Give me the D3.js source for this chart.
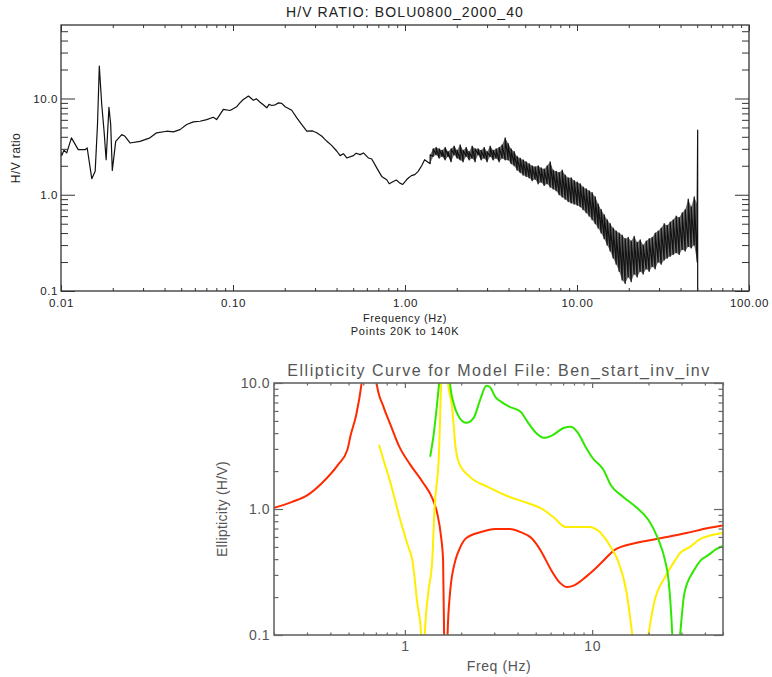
<!DOCTYPE html>
<html>
<head>
<meta charset="utf-8">
<script src="https://cdn.jsdelivr.net/npm/d3@7"></script>
<style>
  body { margin: 0; background: #fff; }
  svg { display: block; }
  text { font-family: "Liberation Sans", Arial, sans-serif; }
  .top text { fill: #222; }
  .bottom text { fill: #555; }
</style>
</head>
<body>
<div id="chart"></div>
<script>
// ---- top panel: H/V ratio (frequency Hz, ratio) ----
const hvSmooth = [
  [0.0099, 2.94], [0.0101, 2.55], [0.0104, 2.9], [0.0108, 2.72], [0.0115, 3.9],
  [0.0126, 2.94], [0.0138, 2.94], [0.0142, 3.06], [0.0151, 1.47], [0.0158, 1.75],
  [0.0163, 5.36], [0.0167, 21.7], [0.01725, 8.66], [0.0178, 4.57], [0.0183, 2.31],
  [0.0190, 8.1], [0.01945, 5.36], [0.01987, 1.79], [0.0208, 3.59], [0.02255, 4.22],
  [0.02356, 4.05], [0.0252, 3.45], [0.0288, 3.59], [0.0329, 3.9], [0.036, 4.4],
  [0.0412, 4.57], [0.045, 4.5], [0.0492, 4.75], [0.0538, 5.36], [0.0588, 5.71],
  [0.0643, 5.8], [0.0703, 6.04], [0.0768, 6.38], [0.0803, 6.04], [0.0879, 7.7],
  [0.0961, 7.5], [0.105, 8.19], [0.109, 8.9], [0.1148, 9.77], [0.119, 10.2],
  [0.1229, 10.6], [0.1314, 9.6], [0.137, 9.9], [0.1437, 9.15], [0.15, 8.6],
  [0.1572, 8.0], [0.162, 8.7], [0.168, 8.45], [0.176, 8.6], [0.1838, 9.0],
  [0.192, 8.9], [0.201, 8.2], [0.2196, 7.55], [0.235, 6.3], [0.2512, 5.36],
  [0.2685, 4.57], [0.29, 4.6], [0.307, 4.4], [0.3288, 4.05], [0.34, 3.8],
  [0.3515, 3.59], [0.3757, 3.24], [0.4017, 2.83], [0.4196, 2.55], [0.4386, 2.67],
  [0.4586, 2.41], [0.5014, 2.55], [0.52, 2.7], [0.5482, 2.61], [0.5734, 2.72],
  [0.6, 2.5], [0.6131, 2.41], [0.6408, 2.35], [0.6849, 1.9], [0.7321, 1.55],
  [0.7826, 1.43], [0.81, 1.3], [0.8553, 1.37], [0.89, 1.42], [0.9343, 1.32],
  [0.97, 1.28], [1.021, 1.43], [1.05, 1.5], [1.09, 1.58], [1.14, 1.62],
  [1.1925, 1.75], [1.25, 2.0], [1.3, 2.31]
];

// noisy part: per frequency bin, low and high of the trace
const noisyFreq = [
  1.40, 1.457, 1.517, 1.579, 1.644, 1.711, 1.781, 1.854, 1.930, 2.009,
  2.092, 2.178, 2.267, 2.360, 2.457, 2.557, 2.662, 2.771, 2.885, 3.003,
  3.126, 3.254, 3.388, 3.527, 3.671, 3.822, 3.978, 4.141, 4.311, 4.488,
  4.672, 4.864, 5.063, 5.271, 5.487, 5.712, 5.946, 6.190, 6.444, 6.708,
  6.983, 7.269, 7.567, 7.878, 8.201, 8.537, 8.887, 9.251, 9.630, 10.03,
  10.44, 10.86, 11.31, 11.77, 12.25, 12.76, 13.28, 13.82, 14.39, 14.98,
  15.59, 16.23, 16.90, 17.59, 18.31, 19.06, 19.84, 20.66, 21.50, 22.38,
  23.30, 24.26, 25.25, 26.29, 27.36, 28.49, 29.65, 30.87, 32.13, 33.45,
  34.82, 36.25, 37.74, 39.28, 40.89, 42.57, 44.32, 46.13, 48.02, 49.99
];
const noisyLo = [
  2.1, 2.5, 2.6, 2.4, 2.5, 2.3, 2.5, 2.2, 2.6, 2.4,
  2.3, 2.2, 2.5, 2.3, 2.4, 2.2, 2.6, 2.3, 2.4, 2.2,
  2.5, 2.3, 2.4, 2.2, 2.4, 2.3, 2.3, 2.1, 2.0, 1.8,
  1.7, 1.6, 1.55, 1.5, 1.4, 1.45, 1.3, 1.35, 1.25, 1.3,
  1.2, 1.15, 1.1, 1.0, 0.95, 0.9, 0.85, 0.82, 0.8, 0.78,
  0.75, 0.7, 0.65, 0.6, 0.55, 0.5, 0.45, 0.4, 0.35, 0.3,
  0.26, 0.22, 0.19, 0.16, 0.13, 0.12, 0.14, 0.125, 0.15, 0.14,
  0.16, 0.15, 0.17, 0.16, 0.18, 0.17, 0.2, 0.19, 0.21, 0.22,
  0.23, 0.24, 0.25, 0.24, 0.27, 0.26, 0.29, 0.28, 0.3, 0.2
];
const noisyHi = [
  2.6, 3.0, 3.1, 3.0, 2.9, 3.1, 2.8, 3.0, 3.2, 2.9,
  3.3, 2.9, 3.1, 2.8, 3.2, 3.0, 3.0, 2.9, 3.1, 2.8,
  3.2, 2.9, 3.0, 3.1, 3.3, 3.9, 3.4, 3.0, 2.8, 2.5,
  2.4, 2.3, 2.2, 2.1, 2.0, 1.95, 2.0, 1.9, 1.85, 2.0,
  2.2, 1.8, 1.75, 1.7, 1.8, 1.6, 1.5, 1.5, 1.4, 1.35,
  1.3, 1.2, 1.15, 1.1, 1.05, 0.95, 0.8, 0.7, 0.62, 0.55,
  0.5, 0.45, 0.42, 0.4, 0.38, 0.35, 0.36, 0.33, 0.37, 0.32,
  0.34, 0.3, 0.33, 0.35, 0.36, 0.4, 0.42, 0.45, 0.5, 0.48,
  0.52, 0.55, 0.6, 0.58, 0.65, 0.7, 0.9, 0.75, 0.95, 0.8
];
const hvSpike = [[50.3, 4.7], [50.3, 0.05]];

const topXTicks = [0.01, 0.1, 1, 10, 100];
const topXLabels = ["0.01", "0.10", "1.00", "10.00", "100.00"];
const topYTicks = [0.1, 1, 10];
const topYLabels = ["0.1", "1.0", "10.0"];

// ---- bottom panel: ellipticity curves (frequency Hz, H/V) ----
const redCurve = [
  [0.2, 1.02], [0.25, 1.14], [0.302, 1.29], [0.361, 1.61], [0.439, 2.24],
  [0.4926, 2.94], [0.514, 3.88], [0.55, 5.59], [0.588, 10.05], [0.61, 16],
  [0.64, 30], [0.68, 16], [0.706, 10.0], [0.769, 6.47], [0.838, 4.66],
  [0.935, 3.11], [1.07, 2.24], [1.253, 1.61], [1.4, 1.22], [1.487, 0.93],
  [1.561, 0.6], [1.6, 0.39], [1.63, 0.05], [1.66, 0.03], [1.69, 0.1],
  [1.742, 0.215], [1.863, 0.393], [1.945, 0.472], [2.13, 0.588], [2.545, 0.656],
  [3.04, 0.693], [3.63, 0.693], [4.15, 0.656], [4.74, 0.588], [5.29, 0.472],
  [5.66, 0.393], [6.05, 0.327], [6.76, 0.258], [7.36, 0.24], [8.07, 0.249],
  [9.23, 0.288], [10.49, 0.34], [11.51, 0.39], [13.15, 0.472], [17.09, 0.537],
  [23.5, 0.588], [31.9, 0.644], [41.7, 0.706], [50, 0.74]
];
const yellowCurve = [
  [0.728, 3.23], [0.769, 2.45], [0.838, 1.61], [0.935, 0.864], [1.044, 0.499],
  [1.096, 0.393], [1.165, 0.179], [1.223, 0.1], [1.25, 0.03], [1.278, 0.1],
  [1.332, 0.215], [1.40, 0.39], [1.44, 1.0], [1.524, 2.94], [1.56, 10],
  [1.62, 30], [1.70, 10], [1.787, 6.47], [1.864, 3.11], [1.945, 2.32],
  [2.225, 1.80], [2.77, 1.50], [3.63, 1.246], [4.52, 1.116], [5.29, 1.02],
  [6.2, 0.864], [7.22, 0.719], [9.62, 0.719], [10.98, 0.656], [12.57, 0.499],
  [13.7, 0.393], [15.3, 0.215], [16.4, 0.1], [18.1, 0.03], [20.0, 0.1],
  [21.4, 0.179], [24.5, 0.288], [27.8, 0.393], [29.2, 0.44], [33.3, 0.5],
  [37.5, 0.575], [41.7, 0.61], [50, 0.644]
];
const greenCurve = [
  [1.365, 2.6], [1.428, 4.0], [1.494, 7.4], [1.524, 10], [1.6, 25],
  [1.68, 25], [1.742, 10], [1.823, 6.85], [1.945, 5.38], [2.13, 4.83],
  [2.33, 5.29], [2.545, 7.62], [2.72, 9.5], [2.84, 9.3], [3.04, 7.77],
  [3.33, 6.96], [3.63, 6.47], [4.15, 5.91], [4.52, 4.92], [4.95, 4.1],
  [5.53, 3.67], [6.18, 3.87], [7.05, 4.4], [7.7, 4.49], [8.4, 4.02],
  [9.23, 3.11], [10.06, 2.54], [11.51, 2.04], [12.57, 1.55], [14.67, 1.246],
  [17.09, 1.04], [20.0, 0.818], [22.3, 0.599], [24.5, 0.393], [25.6, 0.272],
  [26.8, 0.1], [27.6, 0.03], [29.5, 0.1], [31.1, 0.215], [34.8, 0.322],
  [38.1, 0.393], [41.7, 0.43], [46, 0.48], [50, 0.51]
];

const botXTicks = [1, 10];
const botXLabels = ["1", "10"];
const botYTicks = [0.1, 1, 10];
const botYLabels = ["0.1", "1.0", "10.0"];

const width = 772, height = 677;

const svg = d3.select("#chart").append("svg")
  .attr("width", width)
  .attr("height", height);

// IDL style box with inward ticks on all four sides
function drawAxes(g, x, y, o) {
  const [x0, x1] = x.range();
  const [y0, y1] = y.range();
  const isMajor = (list, v) => list.some(m => Math.abs(m - v) / m < 1e-6);
  const xMinor = x.ticks().filter(v => !isMajor(o.xTicks, v));
  const yMinor = y.ticks().filter(v => !isMajor(o.yTicks, v));

  const parts = [
    [d3.axisBottom(x).tickValues(o.xTicks).tickSize(-o.xLen).tickPadding(o.xPad)
      .tickFormat((d, i) => o.xLabels[i]), `translate(0,${y0})`],
    [d3.axisBottom(x).tickValues(xMinor).tickSize(-o.xLen / 2).tickFormat(""), `translate(0,${y0})`],
    [d3.axisTop(x).tickValues(o.xTicks).tickSize(-o.xLen).tickFormat(""), `translate(0,${y1})`],
    [d3.axisTop(x).tickValues(xMinor).tickSize(-o.xLen / 2).tickFormat(""), `translate(0,${y1})`],
    [d3.axisLeft(y).tickValues(o.yTicks).tickSize(-o.yLen).tickPadding(o.yPad)
      .tickFormat((d, i) => o.yLabels[i]), `translate(${x0},0)`],
    [d3.axisLeft(y).tickValues(yMinor).tickSize(-o.yLen / 2).tickFormat(""), `translate(${x0},0)`],
    [d3.axisRight(y).tickValues(o.yTicks).tickSize(-o.yLen).tickFormat(""), `translate(${x1},0)`],
    [d3.axisRight(y).tickValues(yMinor).tickSize(-o.yLen / 2).tickFormat(""), `translate(${x1},0)`]
  ];
  parts.forEach(([axis, tr]) => {
    const a = g.append("g").attr("transform", tr).call(axis.tickSizeOuter(0));
    a.select(".domain").remove();
    a.selectAll("line").attr("stroke", o.color).attr("stroke-width", o.tickWidth);
    a.attr("font-family", null).attr("font-size", o.fontSize);
    a.selectAll("text").attr("fill", null).attr("letter-spacing", o.spacing);
  });

  g.append("rect")
    .attr("x", x0).attr("y", y1)
    .attr("width", x1 - x0).attr("height", y0 - y1)
    .attr("fill", "none")
    .attr("stroke", o.color)
    .attr("stroke-width", o.boxWidth);
}

// ---------- top chart ----------
const topPanel = svg.append("g").attr("class", "top");
const xTop = d3.scaleLog().domain([0.01, 100]).range([61, 749]);
const yTop = d3.scaleLog().domain([0.1, 58]).range([291, 25]);

topPanel.append("clipPath").attr("id", "clipTop")
  .append("rect")
  .attr("x", 61).attr("y", 25)
  .attr("width", 749 - 61).attr("height", 291 - 25);

const plotTop = topPanel.append("g").attr("clip-path", "url(#clipTop)");

// dense noise: band between the low and high readings
const noisyBand = noisyFreq.map((f, i) => [f, noisyLo[i], noisyHi[i]]);
plotTop.append("path")
  .datum(noisyBand)
  .attr("fill", "#111")
  .attr("fill-opacity", 0.6)
  .attr("d", d3.area()
    .x(d => xTop(d[0]))
    .y0(d => yTop(d[1]))
    .y1(d => yTop(d[2])));

// trace: smooth part, zigzag through the noisy bins, then the end spike
const hvTrace = hvSmooth.slice();
noisyBand.forEach(([f, lo, hi]) => {
  hvTrace.push([f, lo]);
  hvTrace.push([f, hi]);
});
hvSpike.forEach(p => hvTrace.push(p));

plotTop.append("path")
  .datum(hvTrace)
  .attr("fill", "none")
  .attr("stroke", "#111")
  .attr("stroke-width", 1.2)
  .attr("stroke-linejoin", "round")
  .attr("d", d3.line()
    .x(d => xTop(d[0]))
    .y(d => yTop(d[1])));

drawAxes(topPanel, xTop, yTop, {
  xTicks: topXTicks, xLabels: topXLabels,
  yTicks: topYTicks, yLabels: topYLabels,
  xLen: 6, yLen: 14, xPad: 8, yPad: 3,
  color: "#333", tickWidth: 1, boxWidth: 1.3, fontSize: 11.5, spacing: 0.6
});

topPanel.append("text")
  .attr("x", 405).attr("y", 17)
  .attr("text-anchor", "middle")
  .attr("font-size", 14)
  .attr("letter-spacing", 1.1)
  .text("H/V RATIO: BOLU0800_2000_40");

topPanel.append("text")
  .attr("x", 405).attr("y", 322)
  .attr("text-anchor", "middle")
  .attr("font-size", 11)
  .attr("letter-spacing", 0.6)
  .text("Frequency (Hz)");

topPanel.append("text")
  .attr("x", 405).attr("y", 335)
  .attr("text-anchor", "middle")
  .attr("font-size", 11)
  .attr("letter-spacing", 0.8)
  .text("Points 20K to 140K");

topPanel.append("text")
  .attr("transform", "translate(20,158) rotate(-90)")
  .attr("text-anchor", "middle")
  .attr("font-size", 12)
  .attr("letter-spacing", 0.4)
  .text("H/V ratio");

// ---------- bottom chart ----------
const botPanel = svg.append("g").attr("class", "bottom");
const xBot = d3.scaleLog().domain([0.2, 50]).range([274, 723]);
const yBot = d3.scaleLog().domain([0.1, 10]).range([635, 383]);

botPanel.append("clipPath").attr("id", "clipBot")
  .append("rect")
  .attr("x", 274).attr("y", 383)
  .attr("width", 723 - 274).attr("height", 635 - 383);

const ellLine = d3.line()
  .x(d => xBot(d[0]))
  .y(d => yBot(d[1]))
  .curve(d3.curveMonotoneX);

const curves = [
  { data: redCurve, color: "#ff2a00" },
  { data: yellowCurve, color: "#ffee00" },
  { data: greenCurve, color: "#2fe800" }
];

botPanel.append("g")
  .attr("clip-path", "url(#clipBot)")
  .selectAll("path")
  .data(curves)
  .join("path")
  .attr("fill", "none")
  .attr("stroke", d => d.color)
  .attr("stroke-width", 2)
  .attr("d", d => ellLine(d.data));

drawAxes(botPanel, xBot, yBot, {
  xTicks: botXTicks, xLabels: botXLabels,
  yTicks: botYTicks, yLabels: botYLabels,
  xLen: 5, yLen: 9, xPad: 6, yPad: 4,
  color: "#666", tickWidth: 1.2, boxWidth: 1.6, fontSize: 14, spacing: 0.5
});

botPanel.append("text")
  .attr("x", 499).attr("y", 376)
  .attr("text-anchor", "middle")
  .attr("font-size", 16)
  .attr("letter-spacing", 1.5)
  .text("Ellipticity Curve for Model File: Ben_start_inv_inv");

botPanel.append("text")
  .attr("x", 499).attr("y", 671)
  .attr("text-anchor", "middle")
  .attr("font-size", 14)
  .attr("letter-spacing", 0.6)
  .text("Freq (Hz)");

botPanel.append("text")
  .attr("transform", "translate(227,509) rotate(-90)")
  .attr("text-anchor", "middle")
  .attr("font-size", 14)
  .attr("letter-spacing", 0.3)
  .text("Ellipticity (H/V)");
</script>
</body>
</html>
